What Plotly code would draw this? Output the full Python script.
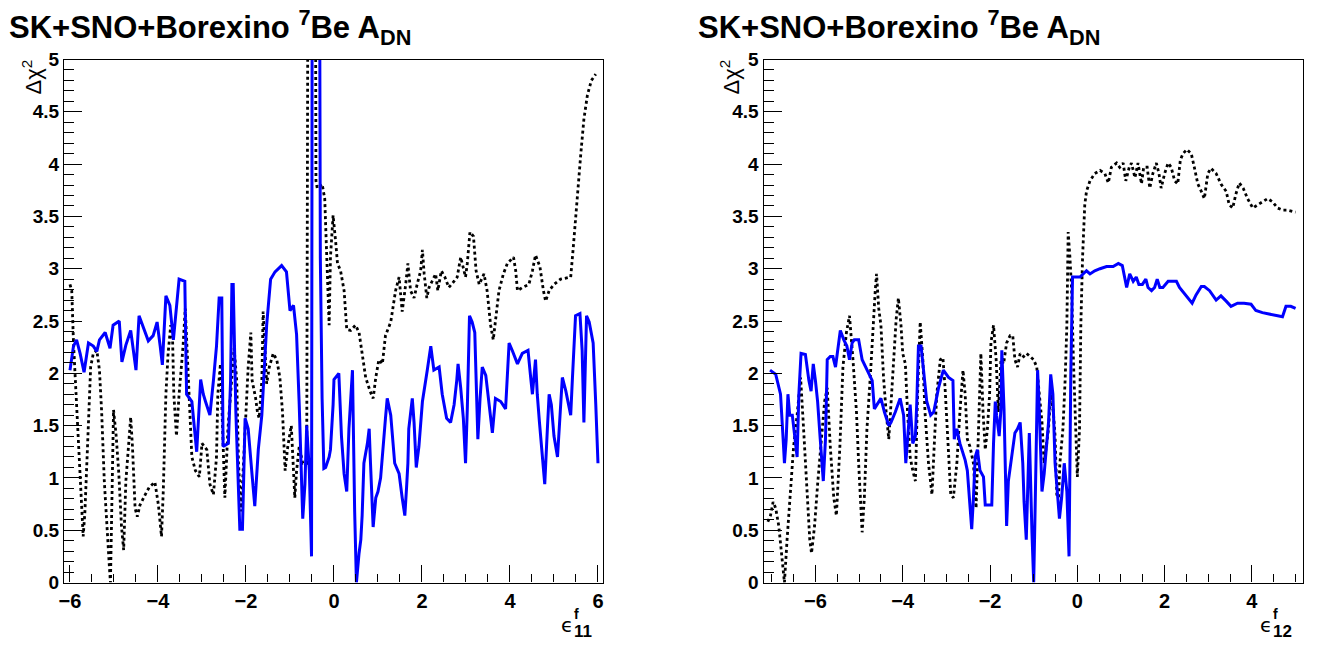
import plotly.graph_objects as go

W, H = 1324, 654

# ---------------- Left panel (epsilon_11) ----------------
left_blue_x = [-6.00, -5.92, -5.85, -5.77, -5.68, -5.58, -5.47, -5.39, -5.33, -5.20, -5.09, -5.02, -4.88, -4.82,
               -4.73, -4.62, -4.55, -4.50, -4.43, -4.35, -4.22, -4.11, -4.02, -3.95, -3.90, -3.82, -3.73, -3.65,
               -3.59, -3.52, -3.39, -3.35, -3.23, -3.12, -3.03, -2.97, -2.92, -2.82, -2.74, -2.67, -2.61, -2.55,
               -2.52, -2.40, -2.35, -2.32, -2.29, -2.23, -2.14, -2.08, -2.02, -1.95, -1.87, -1.80, -1.72, -1.64,
               -1.53, -1.44, -1.34, -1.19, -1.08, -1.00, -0.92, -0.85, -0.79, -0.71, -0.66, -0.62, -0.56, -0.51,
               -0.49, -0.34, -0.31, -0.27, -0.23, -0.19, -0.11, -0.08, -0.02, 0.00, 0.11, 0.17, 0.23, 0.29, 0.34,
               0.42, 0.47, 0.51, 0.57, 0.61, 0.64, 0.68, 0.76, 0.80, 0.83, 0.89, 0.95, 1.00, 1.06, 1.12, 1.17,
               1.21, 1.29, 1.38, 1.48, 1.55, 1.61, 1.65, 1.68, 1.70, 1.74, 1.78, 1.82, 1.87, 1.93, 2.01, 2.12,
               2.20, 2.27, 2.39, 2.46, 2.56, 2.65, 2.73, 2.79, 2.82, 2.88, 2.94, 2.99, 3.03, 3.08, 3.14, 3.20,
               3.27, 3.32, 3.37, 3.45, 3.55, 3.60, 3.67, 3.79, 3.90, 3.98, 4.05, 4.17, 4.28, 4.41, 4.47, 4.51,
               4.58, 4.62, 4.67, 4.73, 4.79, 4.85, 4.89, 4.94, 5.00, 5.08, 5.14, 5.19, 5.27, 5.38, 5.42, 5.45,
               5.49, 5.59, 5.64, 5.68, 5.74, 5.80, 5.89, 5.95, 5.97, 6.00]
left_blue_y = [2.03, 2.26, 2.32, 2.19, 2.01, 2.29, 2.26, 2.21, 2.32, 2.39, 2.24, 2.46, 2.50, 2.11,
               2.27, 2.41, 2.19, 2.03, 2.55, 2.46, 2.31, 2.36, 2.49, 2.26, 2.08, 2.74, 2.65, 2.32,
               2.59, 2.90, 2.88, 1.80, 1.73, 1.25, 1.94, 1.80, 1.73, 1.60, 1.93, 2.26, 2.72, 2.72,
               1.30, 1.33, 1.93, 2.85, 2.85, 1.63, 0.51, 0.51, 1.57, 1.47, 1.07, 0.73, 1.27, 1.60,
               2.46, 2.90, 2.97, 3.03, 2.97, 2.60, 2.65, 2.37, 1.70, 0.61, 0.94, 1.50, 1.07, 0.25,
               8.00, 8.00, 3.10, 1.76, 1.09, 1.10, 1.20, 1.27, 1.70, 1.94, 2.00, 1.40, 1.04, 0.87, 1.47,
               2.03, 0.68, 0.00, 0.28, 0.41, 0.64, 1.14, 1.33, 1.47, 1.14, 0.53, 0.81, 0.87, 1.00, 1.27, 1.57,
               1.76, 1.60, 1.14, 1.04, 0.81, 0.64, 0.91, 1.14, 1.47, 1.60, 1.76, 1.53, 1.10, 1.30, 1.73, 2.03,
               2.26, 2.03, 2.06, 1.80, 1.57, 1.53, 1.70, 1.93, 2.09, 1.86, 1.57, 1.14, 1.66, 2.55, 2.49, 2.39,
               1.37, 1.76, 2.06, 1.98, 1.60, 1.43, 1.76, 1.73, 1.66, 2.29, 2.22, 2.09, 2.19, 2.22, 1.96, 1.80,
               2.13, 1.80, 1.53, 1.20, 0.94, 1.47, 1.80, 1.70, 1.40, 1.20, 1.57, 1.96, 1.83, 1.60, 1.96, 2.22,
               2.55, 2.57, 2.22, 1.53, 2.55, 2.49, 2.29, 1.70, 1.43, 1.14]

left_black_x = [-6.00, -5.96, -5.92, -5.89, -5.85, -5.79, -5.73, -5.70, -5.66, -5.58, -5.53, -5.47, -5.39, -5.33,
                -5.28, -5.22, -5.16, -5.10, -5.08, -5.05, -5.01, -4.95, -4.89, -4.83, -4.78, -4.73, -4.68, -4.62,
                -4.58, -4.52, -4.47, -4.41, -4.29, -4.20, -4.07, -3.99, -3.92, -3.88, -3.82, -3.77, -3.71, -3.67,
                -3.64, -3.58, -3.52, -3.43, -3.38, -3.30, -3.23, -3.15, -3.06, -3.00, -2.89, -2.82, -2.74, -2.67,
                -2.64, -2.58, -2.53, -2.48, -2.41, -2.33, -2.27, -2.21, -2.17, -2.11, -2.05, -2.00, -1.95, -1.89,
                -1.86, -1.78, -1.74, -1.70, -1.64, -1.61, -1.56, -1.53, -1.47, -1.38, -1.30, -1.23, -1.17, -1.11,
                -1.05, -0.97, -0.89, -0.85, -0.79, -0.71, -0.62, -0.58, -0.43, -0.41, -0.38, -0.27, -0.21, -0.17,
                -0.11, -0.08, -0.02, 0.04, 0.08, 0.15, 0.23, 0.29, 0.38, 0.49, 0.57, 0.64, 0.72, 0.82, 0.89, 0.95,
                1.02, 1.10, 1.17, 1.29, 1.40, 1.48, 1.55, 1.63, 1.68, 1.74, 1.82, 1.89, 1.97, 2.01, 2.05, 2.11,
                2.16, 2.23, 2.31, 2.36, 2.44, 2.52, 2.61, 2.73, 2.80, 2.88, 2.94, 2.99, 3.03, 3.09, 3.17, 3.23,
                3.30, 3.41, 3.48, 3.56, 3.62, 3.67, 3.75, 3.85, 3.94, 4.08, 4.13, 4.17, 4.28, 4.43, 4.51, 4.58,
                4.68, 4.76, 4.81, 4.89, 5.00, 5.15, 5.38, 5.44, 5.53, 5.61, 5.68, 5.76, 5.85, 5.95]
left_black_y = [2.85, 2.79, 2.29, 2.03, 1.80, 1.14, 0.71, 0.44, 0.68, 1.63, 2.06, 2.19, 2.22, 2.03,
                1.63, 0.97, 0.48, 0.12, 0.00, 0.64, 1.65, 1.40, 1.04, 0.54, 0.31, 0.97, 1.27, 1.58,
                1.30, 0.71, 0.63, 0.74, 0.84, 0.91, 0.96, 0.74, 0.44, 0.87, 1.80, 2.19, 2.46, 2.36,
                1.80, 1.40, 1.80, 2.26, 2.62, 1.80, 1.20, 1.07, 1.01, 1.33, 1.27, 0.94, 0.84, 1.20,
                1.80, 2.09, 1.47, 0.81, 1.47, 1.90, 2.24, 1.93, 1.14, 0.68, 1.20, 1.70, 2.06, 2.39,
                1.93, 1.76, 1.63, 1.57, 1.93, 2.59, 2.09, 1.90, 2.06, 2.19, 2.13, 1.96, 1.63, 1.07,
                1.30, 1.50, 0.81, 1.07, 1.30, 1.14, 1.14, 8.00, 8.00, 3.84, 3.77, 3.81, 3.67, 3.11,
                2.46, 3.11, 3.51, 3.25, 3.05, 2.98, 2.79, 2.42, 2.41, 2.46, 2.39, 2.19, 1.96, 1.83, 1.76, 1.96,
                2.13, 2.09, 2.36, 2.49, 2.79, 2.92, 2.59, 2.85, 3.05, 2.79, 2.72, 2.85, 2.98, 3.18, 2.95, 2.72,
                2.82, 2.88, 2.95, 2.79, 2.98, 2.92, 2.82, 2.88, 2.92, 3.11, 3.02, 2.92, 3.05, 3.35, 3.31, 2.98,
                2.85, 2.95, 2.79, 2.46, 2.32, 2.52, 2.79, 2.95, 3.05, 3.11, 2.98, 2.79, 2.82, 2.85, 2.98, 3.13,
                3.02, 2.79, 2.69, 2.79, 2.85, 2.90, 2.92, 3.21, 3.71, 4.10, 4.43, 4.66, 4.80, 4.86]

# ---------------- Right panel (epsilon_12) ----------------
right_blue_x = [-7.04, -6.91, -6.80, -6.76, -6.74, -6.71, -6.67, -6.63, -6.59, -6.53, -6.46, -6.42, -6.38, -6.33,
                -6.23, -6.15, -6.10, -6.05, -6.00, -5.95, -5.89, -5.82, -5.77, -5.73, -5.66, -5.60, -5.54, -5.49,
                -5.43, -5.35, -5.28, -5.22, -5.16, -5.11, -5.01, -4.93, -4.82, -4.70, -4.65, -4.59, -4.50, -4.42,
                -4.32, -4.27, -4.17, -4.06, -3.98, -3.93, -3.87, -3.83, -3.77, -3.71, -3.68, -3.64, -3.58, -3.52,
                -3.45, -3.36, -3.29, -3.18, -3.07, -2.95, -2.85, -2.82, -2.76, -2.69, -2.62, -2.57, -2.52, -2.47,
                -2.42, -2.38, -2.34, -2.29, -2.23, -2.15, -2.11, -2.04, -1.96, -1.92, -1.88, -1.85, -1.79, -1.75,
                -1.73, -1.68, -1.66, -1.62, -1.58, -1.50, -1.43, -1.37, -1.31, -1.25, -1.22, -1.17, -1.14, -1.10,
                -1.04, -1.00, -0.97, -0.91, -0.87, -0.81, -0.76, -0.71, -0.66, -0.61, -0.56, -0.51, -0.46, -0.41,
                -0.36, -0.30, -0.24, -0.19, -0.15, -0.11, 0.06, 0.21, 0.29, 0.40, 0.52, 0.67, 0.82, 0.94, 1.03,
                1.09, 1.13, 1.20, 1.28, 1.35, 1.41, 1.49, 1.57, 1.62, 1.70, 1.77, 1.83, 1.89, 1.96, 2.08, 2.27,
                2.34, 2.49, 2.63, 2.72, 2.84, 2.91, 3.03, 3.18, 3.29, 3.41, 3.52, 3.67, 3.82, 3.98, 4.09, 4.24,
                4.43, 4.59, 4.70, 4.78, 4.89, 5.00]
right_blue_y = [2.03, 1.99, 1.80, 1.57, 1.37, 1.14, 1.37, 1.80, 1.60, 1.60, 1.30, 1.20, 1.80, 2.19,
                2.18, 1.93, 1.83, 2.09, 1.93, 1.73, 1.37, 0.97, 1.37, 2.13, 2.16, 2.16, 2.06, 2.22,
                2.41, 2.32, 2.26, 2.13, 2.29, 2.32, 2.32, 2.13, 2.03, 1.93, 1.66, 1.70, 1.76, 1.63,
                1.50, 1.53, 1.63, 1.76, 1.60, 1.14, 1.47, 1.70, 1.33, 1.40, 1.70, 2.26, 2.26, 2.03,
                1.73, 1.60, 1.63, 1.86, 2.03, 1.96, 1.93, 1.37, 1.47, 1.33, 1.24, 1.17, 1.07, 0.81,
                0.51, 0.81, 1.20, 1.27, 1.07, 1.01, 0.74, 0.74, 0.74, 1.33, 1.73, 1.60, 1.40, 1.66,
                2.22, 1.66, 1.14, 0.54, 0.97, 1.20, 1.43, 1.47, 1.53, 1.14, 0.77, 0.41, 0.77, 1.43,
                0.48, 0.00, 0.64, 2.03, 1.63, 0.87, 1.04, 1.33, 1.53, 1.99, 1.80, 1.14, 0.87, 0.61,
                0.81, 1.14, 0.87, 0.25, 1.99, 2.92, 2.92, 2.98, 2.95, 2.98, 3.00, 3.02, 3.02, 3.05, 3.03,
                2.88, 2.82, 2.95, 2.88, 2.92, 2.85, 2.85, 2.90, 2.82, 2.79, 2.82, 2.90, 2.82, 2.82, 2.88, 2.88,
                2.82, 2.74, 2.67, 2.75, 2.83, 2.83, 2.79, 2.70, 2.74, 2.69, 2.64, 2.67, 2.67, 2.66, 2.60, 2.58,
                2.56, 2.55, 2.54, 2.64, 2.64, 2.62]

right_black_x = [-7.09, -7.03, -6.97, -6.91, -6.84, -6.76, -6.71, -6.65, -6.57, -6.50, -6.42, -6.34, -6.28, -6.21,
                 -6.13, -6.09, -6.02, -5.95, -5.87, -5.79, -5.73, -5.66, -5.58, -5.52, -5.44, -5.37, -5.29, -5.22,
                 -5.14, -5.06, -5.01, -4.93, -4.88, -4.82, -4.74, -4.68, -4.63, -4.60, -4.55, -4.50, -4.44, -4.38,
                 -4.32, -4.27, -4.21, -4.15, -4.10, -4.04, -4.00, -3.94, -3.89, -3.83, -3.77, -3.71, -3.66, -3.60,
                 -3.54, -3.49, -3.41, -3.33, -3.28, -3.22, -3.14, -3.08, -3.03, -2.95, -2.90, -2.84, -2.76, -2.69,
                 -2.62, -2.57, -2.52, -2.46, -2.38, -2.32, -2.27, -2.21, -2.16, -2.11, -2.06, -2.01, -1.98, -1.92,
                 -1.86, -1.81, -1.75, -1.69, -1.62, -1.54, -1.48, -1.43, -1.37, -1.31, -1.23, -1.16, -1.08, -1.00,
                 -0.93, -0.87, -0.81, -0.76, -0.71, -0.66, -0.61, -0.55, -0.51, -0.47, -0.43, -0.40, -0.33, -0.28,
                 -0.24, -0.21, -0.17, -0.13, -0.09, -0.05, 0.00, 0.05, 0.08, 0.12, 0.17, 0.21, 0.29, 0.40, 0.52,
                 0.63, 0.71, 0.78, 0.90, 0.97, 1.05, 1.11, 1.19, 1.24, 1.32, 1.39, 1.47, 1.52, 1.60, 1.66, 1.73,
                 1.81, 1.87, 1.92, 2.00, 2.08, 2.15, 2.23, 2.30, 2.36, 2.42, 2.51, 2.61, 2.68, 2.76, 2.84, 2.91,
                 2.99, 3.06, 3.18, 3.29, 3.41, 3.48, 3.56, 3.63, 3.71, 3.80, 3.90, 4.02, 4.13, 4.24, 4.36, 4.47,
                 4.59, 4.70, 4.81, 5.00]
right_black_y = [0.58, 0.64, 0.77, 0.71, 0.54, 0.21, 0.00, 0.41, 0.87, 1.30, 1.60, 1.96, 1.53, 0.97,
                 0.41, 0.28, 0.54, 0.94, 1.30, 1.73, 1.86, 1.30, 0.81, 0.64, 1.30, 2.06, 2.39, 2.55,
                 2.13, 1.63, 1.14, 0.48, 0.81, 1.47, 1.99, 2.46, 2.79, 2.95, 2.62, 2.46, 1.96, 1.63,
                 1.37, 1.70, 2.13, 2.52, 2.72, 2.46, 2.19, 2.09, 1.63, 1.20, 1.07, 0.97, 1.80, 2.49,
                 2.13, 1.63, 1.14, 0.84, 1.30, 1.80, 2.13, 2.15, 1.86, 1.30, 0.84, 0.81, 1.14, 1.63,
                 2.03, 1.80, 1.37, 1.30, 1.14, 0.71, 1.33, 2.19, 1.63, 1.27, 1.47, 1.80, 2.29, 2.46,
                 2.13, 1.63, 2.13, 2.09, 2.29, 2.36, 2.36, 2.13, 2.06, 2.19, 2.16, 2.19, 2.16, 2.13,
                 2.06, 1.80, 1.53, 1.14, 1.30, 1.47, 1.80, 1.63, 1.40, 0.84, 0.81, 1.14, 1.47, 1.93,
                 2.46, 3.35, 3.11, 2.79, 2.13, 1.53, 1.01, 1.47, 2.46, 3.11, 3.61, 3.74, 3.84, 3.91, 3.94,
                 3.91, 3.82, 3.97, 4.01, 3.97, 4.01, 3.84, 3.97, 4.01, 3.87, 4.01, 3.81, 3.97, 3.97, 3.77, 3.91,
                 4.01, 3.91, 3.77, 3.91, 4.01, 3.97, 3.84, 3.81, 4.04, 4.10, 4.14, 4.10, 3.97, 3.81, 3.74, 3.67,
                 3.91, 3.96, 3.91, 3.81, 3.74, 3.61, 3.58, 3.71, 3.82, 3.77, 3.67, 3.58, 3.61, 3.64, 3.67, 3.64,
                 3.58, 3.56, 3.56, 3.54]

# ---------------- Tick labels / texts ----------------
y_tick_vals = [0, 0.5, 1, 1.5, 2, 2.5, 3, 3.5, 4, 4.5, 5]
y_tick_text = ["0", "0.5", "1", "1.5", "2", "2.5", "3", "3.5", "4", "4.5", "5"]
left_x_tick_vals = [-6, -4, -2, 0, 2, 4, 6]
left_x_tick_text = ["−6", "−4", "−2", "0", "2", "4", "6"]
right_x_tick_vals = [-6, -4, -2, 0, 2, 4]
right_x_tick_text = ["−6", "−4", "−2", "0", "2", "4"]

TITLE = "<b>SK+SNO+Borexino <sup>7</sup>Be A<sub>DN</sub></b>"
Y_TITLE = "Δχ<sup>2</sup>"
X_SUB = ["11", "12"]
X_RANGES = [[-6.136, 6.114], [-7.19, 5.17]]

FONT = "Liberation Sans, Arial, sans-serif"
BLUE = "rgb(0,0,255)"

fig = go.Figure()
fig.add_trace(go.Scatter(x=left_black_x, y=left_black_y, mode="lines",
                         line=dict(color="black", width=2.8, dash="3px,3px"), xaxis="x", yaxis="y"))
fig.add_trace(go.Scatter(x=left_blue_x, y=left_blue_y, mode="lines",
                         line=dict(color=BLUE, width=3), xaxis="x", yaxis="y"))
fig.add_trace(go.Scatter(x=right_black_x, y=right_black_y, mode="lines",
                         line=dict(color="black", width=2.8, dash="3px,3px"), xaxis="x2", yaxis="y2"))
fig.add_trace(go.Scatter(x=right_blue_x, y=right_blue_y, mode="lines",
                         line=dict(color=BLUE, width=3), xaxis="x2", yaxis="y2"))

ydom = [1 - 582.5 / H, 1 - 59.5 / H]
xdoms = [[64 / W, 603 / W], [763.5 / W, 1303 / W]]


def bold(lst):
    return ["<b>%s</b>" % t for t in lst]


def xax(dom, rng, anchor, tv, tt):
    return dict(domain=dom, range=rng, anchor=anchor, showgrid=False, zeroline=False, automargin=False,
                showline=True, mirror=True, linecolor="black", linewidth=1.2,
                ticks="inside", ticklen=17, tickwidth=1.2, tickcolor="black",
                tickmode="array", tickvals=tv, ticktext=bold(tt),
                minor=dict(ticks="inside", ticklen=8, tickwidth=1.2, tickcolor="black", dtick=0.5, tick0=0,
                           showgrid=False),
                tickfont=dict(family=FONT, size=20, color="black"))


def yax(anchor):
    return dict(domain=ydom, range=[0, 5], anchor=anchor, showgrid=False, zeroline=False, automargin=False,
                showline=True, mirror=True, linecolor="black", linewidth=1.2,
                ticks="inside", ticklen=18, tickwidth=1.2, tickcolor="black",
                tickmode="array", tickvals=y_tick_vals, ticktext=bold(y_tick_text),
                minor=dict(ticks="inside", ticklen=10, tickwidth=1.2, tickcolor="black", dtick=0.1, tick0=0,
                           showgrid=False),
                tickfont=dict(family=FONT, size=19, color="black"))


annotations = []
title_x = [7, 696]
ylab_x = [31, 729]
eps_x = [567, 1266]
for i in range(2):
    annotations.append(dict(text=TITLE, xref="paper", yref="paper", x=title_x[i] / W, y=1 - 3 / H,
                            xanchor="left", yanchor="top", showarrow=False,
                            font=dict(family=FONT, size=31, color="black")))
    annotations.append(dict(text=Y_TITLE, xref="paper", yref="paper", x=ylab_x[i] / W, y=1 - 58 / H,
                            xanchor="center", yanchor="top", showarrow=False, textangle=-90,
                            font=dict(family=FONT, size=22, color="black")))
    annotations.append(dict(text="ϵ", xref="paper", yref="paper", x=eps_x[i] / W, y=1 - 625 / H,
                            xanchor="center", yanchor="middle", showarrow=False,
                            font=dict(family="DejaVu Sans", size=20, color="black")))
    annotations.append(dict(text="<b>f</b>", xref="paper", yref="paper", x=(eps_x[i] + 5) / W, y=1 - 614 / H,
                            xanchor="left", yanchor="middle", showarrow=False,
                            font=dict(family=FONT, size=14, color="black")))
    annotations.append(dict(text="<b>%s</b>" % X_SUB[i], xref="paper", yref="paper", x=(eps_x[i] + 5) / W,
                            y=1 - 631 / H, xanchor="left", yanchor="middle", showarrow=False,
                            font=dict(family=FONT, size=17, color="black")))

fig.update_layout(
    width=W, height=H, margin=dict(l=0, r=0, t=0, b=0, pad=0, autoexpand=False),
    paper_bgcolor="white", plot_bgcolor="white", showlegend=False,
    xaxis=xax(xdoms[0], X_RANGES[0], "y", left_x_tick_vals, left_x_tick_text),
    yaxis=yax("x"),
    xaxis2=xax(xdoms[1], X_RANGES[1], "y2", right_x_tick_vals, right_x_tick_text),
    yaxis2=yax("x2"),
    annotations=annotations,
)

fig.write_html("out.html", config={"displayModeBar": False},
               post_script="document.body.style.margin='0px';")
